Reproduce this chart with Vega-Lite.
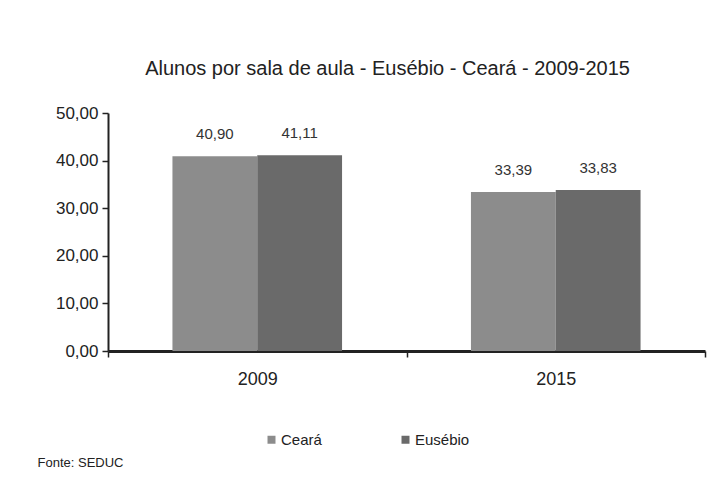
{
  "$schema": "https://vega.github.io/schema/vega-lite/v6.json",
  "width": 597,
  "height": 238,
  "autosize": {"type": "none"},
  "padding": {"left": 108, "top": 113, "right": 18, "bottom": 134},
  "background": "white",
  "title": {
    "text": "Alunos por sala de aula - Eusébio - Ceará - 2009-2015",
    "font": "Liberation Sans",
    "fontSize": 20,
    "fontWeight": "normal",
    "color": "#222",
    "anchor": "middle",
    "dx": -19,
    "offset": 25
  },
  "config": {
    "locale": {"number": {"decimal": ",", "thousands": ".", "grouping": [3], "currency": ["R$", ""]}},
    "font": "Liberation Sans",
    "view": {"stroke": null}
  },
  "data": {
    "values": [
      {"ano": "2009", "serie": "Ceará", "valor": 40.90},
      {"ano": "2009", "serie": "Eusébio", "valor": 41.11},
      {"ano": "2015", "serie": "Ceará", "valor": 33.39},
      {"ano": "2015", "serie": "Eusébio", "valor": 33.83}
    ]
  },
  "encoding": {
    "x": {
      "field": "ano",
      "type": "nominal",
      "scale": {"paddingInner": 0, "paddingOuter": 0},
      "axis": {
        "title": "Fonte: SEDUC",
        "titleFontSize": 13,
        "titleFontWeight": "normal",
        "titleColor": "#222",
        "titleAnchor": "start",
        "titleAlign": "left",
        "titleBaseline": "alphabetic",
        "titleX": -71,
        "titleY": 115,
        "labelAngle": 0,
        "labelFontSize": 18,
        "labelColor": "#222",
        "labelPadding": 13,
        "tickBand": "extent",
        "tickSize": 6,
        "tickColor": "#222",
        "tickWidth": 1.5,
        "domainColor": "#222",
        "domainWidth": 3
      }
    },
    "xOffset": {"field": "serie", "type": "nominal", "scale": {"paddingInner": 0, "paddingOuter": 0.76}},
    "y": {
      "field": "valor",
      "type": "quantitative",
      "scale": {"domain": [0, 50]},
      "axis": {
        "title": null,
        "values": [0, 10, 20, 30, 40, 50],
        "format": ".2f",
        "grid": false,
        "labelFontSize": 17,
        "labelColor": "#222",
        "labelPadding": 4,
        "tickSize": 6,
        "tickColor": "#222",
        "tickWidth": 1.5,
        "domainColor": "#222",
        "domainWidth": 2
      }
    }
  },
  "layer": [
    {
      "mark": {"type": "bar"},
      "encoding": {
        "color": {
          "field": "serie",
          "type": "nominal",
          "scale": {"domain": ["Ceará", "Eusébio"], "range": ["#8c8c8c", "#6a6a6a"]},
          "legend": {
            "title": null,
            "orient": "none",
            "direction": "horizontal",
            "legendX": 156,
            "legendY": 319,
            "symbolType": "square",
            "symbolSize": 64,
            "symbolStrokeWidth": 0,
            "labelFontSize": 15,
            "labelColor": "#222",
            "labelOffset": 2,
            "columnPadding": 76
          }
        }
      }
    },
    {
      "mark": {"type": "text", "dy": -22, "fontSize": 15, "color": "#333"},
      "encoding": {
        "text": {"field": "valor", "type": "quantitative", "format": ".2f"}
      }
    }
  ]
}
